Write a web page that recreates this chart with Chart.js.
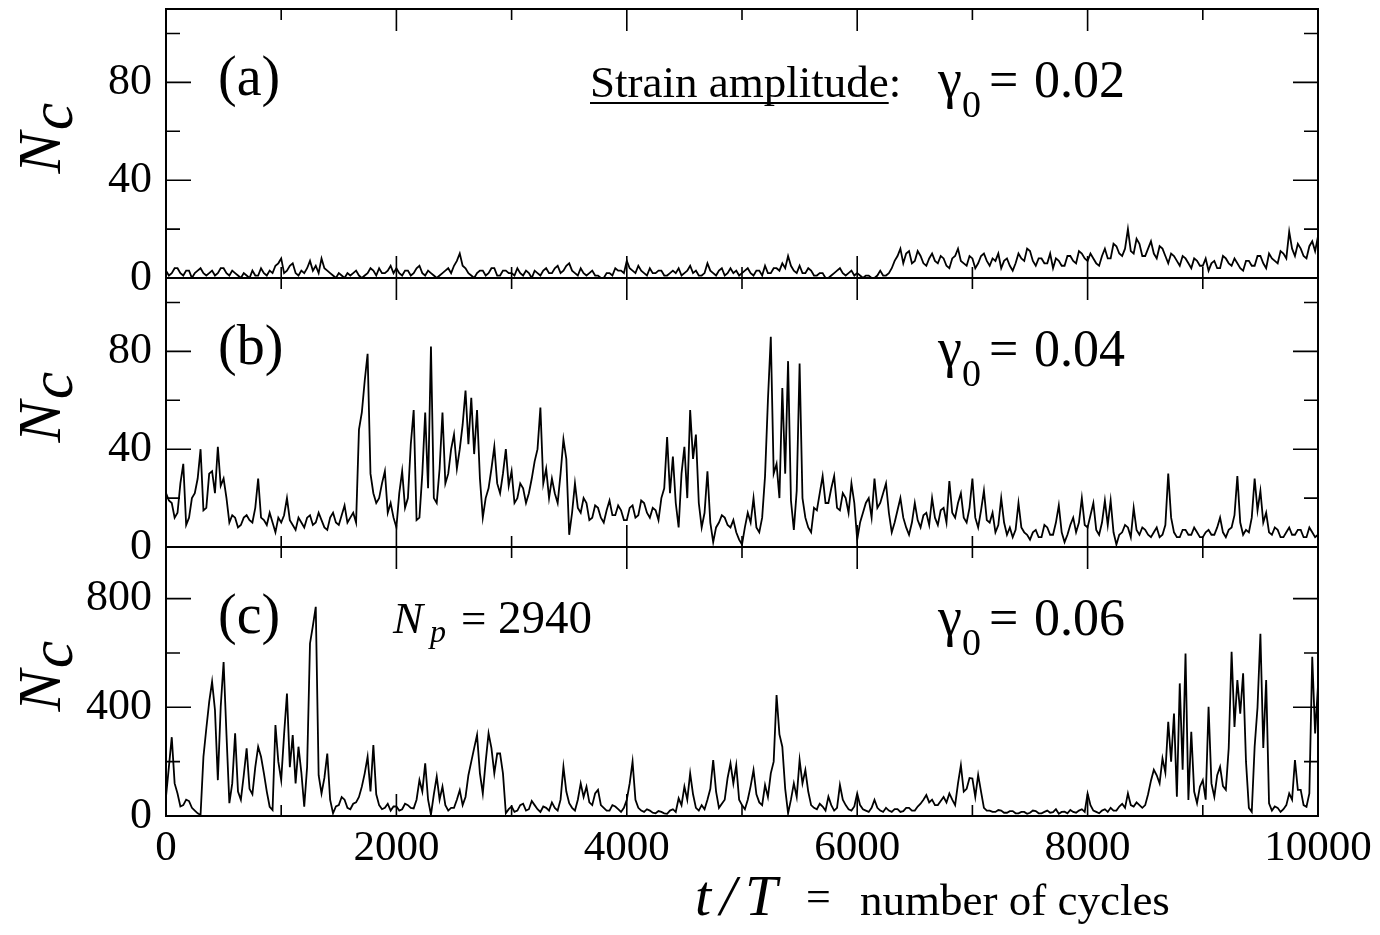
<!DOCTYPE html>
<html>
<head>
<meta charset="utf-8">
<script src="https://cdn.jsdelivr.net/npm/chart.js@4.4.0/dist/chart.umd.min.js"></script>
<style>
  html, body { margin: 0; padding: 0; background: #fff; }
  #wrap { position: relative; width: 1380px; height: 935px; }
</style>
</head>
<body>
<div id="wrap"><canvas id="chart" width="1380" height="935"></canvas></div>
<script>
const SERIF = '"Liberation Serif", "Times New Roman", serif';

// t/T, one reading every 25 cycles (401 points)
const cycles = Array.from({ length: 401 }, (_, i) => i * 25);

// (a) gamma0 = 0.02, one row = 500 cycles
const ncA = [
  3, 1, 2, 4, 4, 2, 1, 3, 3, 0, 2, 3, 4, 2, 1, 2, 3, 1, 2, 4,
  4, 2, 1, 3, 2, 1, 0, 2, 1, 0, 3, 1, 1, 4, 2, 1, 3, 2, 5, 6,
  8, 2, 3, 5, 6, 2, 1, 3, 2, 4, 7, 3, 5, 2, 8, 4, 3, 2, 1, 0,
  2, 1, 0, 2, 1, 2, 3, 1, 0, 1, 2, 4, 3, 1, 4, 2, 2, 3, 5, 2,
  4, 2, 1, 3, 3, 1, 2, 4, 5, 2, 1, 3, 2, 1, 0, 1, 2, 3, 4, 2,
  5, 7, 10, 5, 4, 2, 1, 0, 2, 3, 3, 1, 2, 4, 4, 1, 1, 3, 3, 2,
  2, 1, 4, 2, 1, 3, 2, 0, 3, 2, 1, 3, 4, 2, 2, 4, 5, 2, 3, 5,
  6, 3, 2, 1, 4, 2, 1, 2, 3, 1, 1, 0, 0, 2, 2, 1, 4, 3, 3, 2,
  7, 4, 3, 2, 5, 3, 2, 1, 4, 2, 2, 3, 3, 1, 1, 2, 3, 2, 4, 1,
  2, 3, 5, 2, 3, 1, 1, 2, 6, 3, 2, 1, 3, 4, 1, 2, 4, 2, 3, 1,
  2, 3, 4, 2, 1, 3, 3, 1, 5, 2, 2, 4, 4, 3, 6, 4, 9, 5, 3, 2,
  5, 2, 2, 4, 3, 1, 1, 2, 2, 0, 0, 1, 2, 3, 4, 2, 1, 2, 3, 1,
  2, 1, 0, 1, 1, 0, 0, 1, 3, 1, 1, 2, 4, 7, 9, 12, 6, 10, 11, 6,
  7, 11, 9, 6, 5, 8, 10, 7, 6, 9, 8, 5, 4, 8, 9, 12, 7, 6, 5, 9,
  8, 4, 6, 9, 10, 7, 5, 8, 7, 10, 4, 7, 8, 5, 3, 6, 10, 8, 7, 12,
  11, 7, 5, 8, 8, 6, 6, 10, 4, 8, 7, 5, 5, 9, 9, 7, 6, 11, 10, 8,
  7, 10, 8, 6, 5, 9, 12, 8, 8, 14, 13, 10, 9, 12, 20, 11, 10, 16, 14, 9,
  9, 12, 15, 10, 8, 13, 12, 9, 6, 10, 9, 7, 5, 9, 8, 6, 4, 8, 7, 5,
  5, 8, 3, 6, 7, 4, 4, 9, 8, 6, 5, 8, 6, 4, 3, 7, 7, 5, 5, 9,
  9, 6, 4, 10, 8, 7, 6, 11, 10, 8, 19, 12, 9, 14, 12, 9, 8, 13, 15, 11,
  17
];

// (b) gamma0 = 0.04
const ncB = [
  22, 19, 18, 12, 14, 26, 34, 9, 12, 20, 22, 28, 40, 15, 16, 30, 31, 22, 41, 25,
  28, 20, 10, 13, 12, 8, 9, 12, 13, 11, 10, 16, 28, 12, 11, 9, 14, 10, 6, 12,
  10, 13, 20, 11, 9, 7, 12, 10, 8, 12, 13, 9, 10, 14, 11, 8, 7, 12, 14, 10,
  9, 13, 17, 10, 12, 14, 10, 48, 55, 68, 79, 30, 22, 18, 20, 26, 31, 14, 18, 12,
  8, 22, 31, 16, 20, 42, 56, 11, 12, 30, 55, 24, 82, 20, 18, 32, 55, 26, 30, 40,
  46, 32, 40, 50, 64, 42, 61, 38, 56, 28, 12, 20, 24, 32, 41, 26, 22, 30, 40, 25,
  31, 18, 20, 26, 24, 18, 22, 28, 35, 40, 57, 26, 32, 20, 28, 22, 18, 30, 44, 36,
  5, 14, 26, 16, 14, 20, 18, 11, 12, 17, 16, 12, 10, 15, 19, 13, 13, 17, 15, 11,
  11, 16, 17, 12, 13, 19, 18, 14, 12, 16, 15, 11, 20, 24, 45, 22, 37, 18, 8, 30,
  41, 20, 56, 36, 46, 18, 8, 14, 31, 10, 2, 8, 10, 13, 12, 9, 8, 11, 6, 3,
  1, 8, 14, 10, 20, 8, 6, 12, 29, 60, 86, 30, 34, 20, 65, 30, 76, 19, 7, 23,
  75, 20, 12, 8, 6, 16, 15, 22, 29, 18, 18, 24, 29, 16, 15, 22, 20, 14, 26, 18,
  3, 10, 14, 18, 20, 12, 28, 16, 18, 22, 26, 14, 6, 10, 15, 20, 12, 8, 5, 10,
  18, 11, 8, 13, 14, 9, 20, 12, 9, 15, 16, 10, 27, 14, 12, 18, 22, 12, 10, 16,
  28, 12, 8, 15, 23, 11, 10, 14, 6, 9, 20, 10, 5, 8, 4, 7, 18, 8, 6, 5,
  3, 6, 7, 4, 4, 9, 8, 5, 5, 10, 17, 6, 2, 5, 9, 12, 6, 10, 20, 9,
  8, 13, 18, 7, 5, 10, 19, 9, 19, 6, 1, 5, 6, 9, 8, 4, 16, 7, 5, 8,
  7, 5, 4, 6, 8, 4, 5, 9, 30, 12, 6, 4, 4, 7, 7, 5, 5, 8, 6, 4,
  4, 6, 7, 5, 5, 8, 12, 6, 4, 7, 8, 13, 29, 10, 5, 7, 6, 12, 28, 15,
  23, 10, 14, 6, 5, 8, 7, 4, 4, 6, 8, 5, 5, 7, 7, 4, 4, 8, 6, 4,
  5
];

// (c) gamma0 = 0.06
const ncC = [
  71, 180, 290, 120, 83, 35, 40, 60, 55, 30, 20, 10, 4, 218, 322, 420, 494, 390, 132, 402,
  567, 300, 47, 120, 304, 90, 60, 150, 249, 100, 80, 180, 255, 218, 157, 90, 34, 22, 335, 200,
  132, 300, 451, 180, 298, 120, 255, 160, 34, 181, 635, 700, 770, 150, 83, 140, 230, 59, 10, 35,
  40, 70, 60, 30, 25, 45, 50, 70, 108, 157, 218, 90, 261, 80, 40, 25, 30, 45, 20, 35,
  35, 20, 25, 45, 40, 30, 28, 60, 132, 90, 194, 60, 5, 80, 145, 60, 108, 40, 20, 30,
  30, 60, 95, 40, 70, 150, 200, 250, 298, 157, 83, 200, 304, 250, 157, 230, 230, 157, 10, 25,
  35, 15, 20, 40, 45, 20, 25, 55, 40, 25, 15, 35, 30, 20, 50, 30, 20, 60, 181, 90,
  47, 30, 20, 60, 120, 70, 108, 50, 40, 83, 96, 40, 30, 20, 20, 40, 35, 25, 15, 30,
  60, 120, 200, 60, 30, 20, 15, 25, 20, 12, 10, 18, 15, 10, 8, 20, 25, 15, 65, 40,
  108, 60, 157, 80, 30, 20, 40, 25, 60, 100, 206, 90, 30, 45, 60, 140, 194, 120, 187, 60,
  40, 25, 60, 110, 169, 80, 50, 40, 114, 70, 157, 200, 445, 300, 255, 100, 10, 60, 120, 70,
  206, 120, 169, 90, 40, 30, 25, 45, 35, 20, 71, 40, 20, 30, 114, 60, 40, 25, 20, 35,
  83, 40, 25, 20, 15, 30, 59, 30, 20, 15, 30, 20, 15, 25, 25, 15, 18, 30, 30, 20,
  20, 35, 45, 60, 77, 50, 60, 40, 40, 55, 70, 50, 83, 60, 40, 120, 187, 90, 100, 140,
  138, 70, 151, 90, 30, 20, 20, 15, 15, 22, 20, 12, 12, 18, 18, 10, 10, 15, 15, 8,
  12, 20, 18, 10, 10, 15, 20, 12, 14, 25, 8, 15, 16, 10, 22, 15, 12, 20, 25, 15,
  83, 40, 20, 15, 10, 20, 25, 15, 30, 20, 20, 35, 45, 30, 83, 40, 35, 50, 40, 30,
  40, 80, 130, 170, 150, 120, 212, 160, 347, 200, 377, 71, 488, 170, 598, 59, 310, 90, 47, 108,
  132, 60, 402, 120, 71, 150, 181, 110, 96, 250, 604, 328, 500, 377, 525, 200, 30, 15, 255, 400,
  671, 250, 500, 47, 20, 35, 30, 15, 25, 40, 83, 60, 206, 96, 96, 40, 34, 83, 586, 304,
  480
];

const xTicks = [0, 2000, 4000, 6000, 8000, 10000];
const xMinorTicks = [1000, 3000, 5000, 7000, 9000];
const yTicksAB = [0, 40, 80];
const yMinorAB = [20, 60, 100];
const yTicksC = [0, 400, 800];
const yMinorC = [200, 600];
const panelLabels = ['(a)', '(b)', '(c)'];
const strains = ['0.02', '0.04', '0.06'];

function toPoints(vals) {
  return vals.map((v, i) => ({ x: cycles[i], y: v }));
}

function yAxis(max, ticks, weight) {
  return {
    type: 'linear',
    position: 'left',
    stack: 'nc',
    stackWeight: 1,
    weight: weight,
    min: 0,
    max: max,
    grid: { display: false, drawTicks: false },
    border: { display: false },
    afterBuildTicks: s => { s.ticks = ticks.map(v => ({ value: v })); },
    afterFit: s => { s.width = 166; s.paddingTop = 0; s.paddingBottom = 0; },
    ticks: {
      font: { family: SERIF, size: 44 },
      color: '#000',
      padding: 14,
      autoSkip: false,
      callback: v => String(v)
    }
  };
}

function line(vals, axis) {
  return {
    data: toPoints(vals),
    yAxisID: axis,
    borderColor: '#000',
    borderWidth: 1.8,
    pointRadius: 0,
    tension: 0,
    fill: false
  };
}

function txt(ctx, str, x, y, size, italic) {
  ctx.font = (italic ? 'italic ' : '') + size + 'px ' + SERIF;
  ctx.fillText(str, x, y);
}

// frames, inward ticks and all the annotation text
const panelDecor = {
  id: 'panelDecor',
  afterDraw(chart) {
    const ctx = chart.ctx;
    const xs = chart.scales.x;
    const panels = [
      { s: chart.scales.yA, major: yTicksAB, minor: yMinorAB },
      { s: chart.scales.yB, major: yTicksAB, minor: yMinorAB },
      { s: chart.scales.yC, major: yTicksC, minor: yMinorC }
    ];
    const left = xs.left, right = xs.right;
    ctx.save();
    ctx.strokeStyle = '#000';
    ctx.fillStyle = '#000';
    ctx.textBaseline = 'alphabetic';
    ctx.textAlign = 'left';

    panels.forEach((p, i) => {
      const top = p.s.top, bottom = p.s.bottom;
      ctx.lineWidth = 2;
      ctx.strokeRect(left, top, right - left, bottom - top);

      ctx.lineWidth = 1.6;
      ctx.beginPath();
      const xt = (v, len) => {
        const px = xs.getPixelForValue(v);
        ctx.moveTo(px, top); ctx.lineTo(px, top + len);
        ctx.moveTo(px, bottom); ctx.lineTo(px, bottom - len);
      };
      xTicks.forEach(v => xt(v, 22));
      xMinorTicks.forEach(v => xt(v, 11));
      const yt = (v, len) => {
        const py = p.s.getPixelForValue(v);
        ctx.moveTo(left, py); ctx.lineTo(left + len, py);
        ctx.moveTo(right, py); ctx.lineTo(right - len, py);
      };
      p.major.forEach(v => yt(v, 25));
      p.minor.forEach(v => yt(v, 14));
      ctx.stroke();

      // N_c, rotated
      const cy = (top + bottom) / 2;
      ctx.save();
      ctx.translate(60, cy + 30);
      ctx.rotate(-Math.PI / 2);
      ctx.font = 'italic 62px ' + SERIF;
      ctx.fillText('N', 0, 0);
      const w = ctx.measureText('N').width;
      ctx.fillText('c', w + 2, 12);
      ctx.restore();

      txt(ctx, panelLabels[i], 218, top + 86, 56);

      txt(ctx, '\u03B3', 938, top + 88, 54);
      txt(ctx, '0', 962, top + 108, 38);
      txt(ctx, '=', 989, top + 88, 52);
      txt(ctx, strains[i], 1034, top + 88, 52);

      if (i === 0) {
        txt(ctx, 'Strain amplitude', 590, top + 88, 45);
        ctx.font = '45px ' + SERIF;
        const sw = ctx.measureText('Strain amplitude').width;
        ctx.fillRect(590, top + 93, sw, 2);
        ctx.fillText(':', 590 + sw, top + 88);
      }
      if (i === 2) {
        txt(ctx, 'N', 393, top + 86, 45, true);
        txt(ctx, 'p', 430, top + 95, 32, true);
        txt(ctx, '=', 461, top + 86, 45);
        txt(ctx, '2940', 498, top + 86, 47);
      }
    });

    // x axis title
    txt(ctx, 't', 695, 915, 58, true);
    txt(ctx, '/', 720, 915, 58, true);
    txt(ctx, 'T', 745, 915, 58, true);
    txt(ctx, '=', 806, 911, 44);
    txt(ctx, 'number of cycles', 860, 915, 45);
    ctx.restore();
  }
};

const chart = new Chart(document.getElementById('chart'), {
  type: 'line',
  data: {
    datasets: [line(ncA, 'yA'), line(ncB, 'yB'), line(ncC, 'yC')]
  },
  options: {
    responsive: false,
    animation: false,
    layout: { padding: { left: 0, right: 62, top: 9, bottom: 0 } },
    plugins: { legend: { display: false }, tooltip: { enabled: false } },
    scales: {
      x: {
        type: 'linear',
        position: 'bottom',
        min: 0,
        max: 10000,
        grid: { display: false, drawTicks: false },
        border: { display: false },
        afterBuildTicks: s => { s.ticks = xTicks.map(v => ({ value: v })); },
        afterFit: s => { s.height = 119; s.paddingLeft = 0; s.paddingRight = 0; },
        ticks: {
          font: { family: SERIF, size: 43 },
          color: '#000',
          padding: 7,
          maxRotation: 0,
          autoSkip: false,
          callback: v => String(v)
        }
      },
      yA: yAxis(110, yTicksAB, 3),
      yB: yAxis(110, yTicksAB, 2),
      yC: yAxis(990, yTicksC, 1)
    }
  },
  plugins: [panelDecor]
});
</script>
</body>
</html>
